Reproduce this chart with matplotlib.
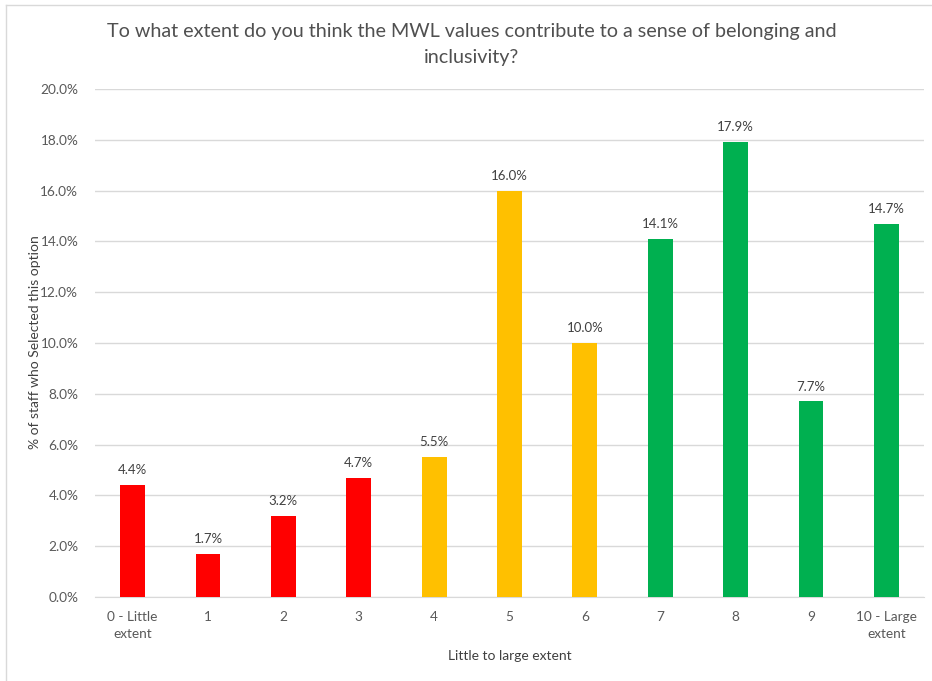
import matplotlib.pyplot as plt
import numpy as np
from matplotlib.lines import Line2D
from matplotlib.ticker import FuncFormatter

plt.rcParams['font.family'] = ['Lato', 'DejaVu Sans']

categories = ['0 - Little\nextent', '1', '2', '3', '4', '5', '6', '7', '8', '9', '10 - Large\nextent']
percent = [4.4, 1.7, 3.2, 4.7, 5.5, 16.0, 10.0, 14.1, 17.9, 7.7, 14.7]
bar_colors = ['#FF0000'] * 4 + ['#FFC000'] * 3 + ['#00B050'] * 4

W, H = 932, 681
fig = plt.figure(figsize=(W / 100, H / 100), dpi=100)
ax = fig.add_axes([95 / W, 1 - 597 / H, (924 - 95) / W, (597 - 89) / H])

x = np.arange(len(categories))
bars = ax.bar(x, percent, width=0.33, color=bar_colors, zorder=3)

for b, v in zip(bars, percent):
    ax.text(b.get_x() + b.get_width() / 2, v + 0.35, f'{v:.1f}%',
            ha='center', va='bottom', fontsize=9.5, color='#404040')

ax.set_xlim(-0.5, len(categories) - 0.5)
ax.set_ylim(0, 20)
ax.set_yticks(np.arange(0, 20.1, 2))
ax.yaxis.set_major_formatter(FuncFormatter(lambda v, _: f'{v:.1f}%'))
ax.set_xticks(x)
ax.set_xticklabels(categories, linespacing=1.5)
ax.tick_params(axis='both', length=0, labelsize=9.8, labelcolor='#595959')
ax.tick_params(axis='y', pad=12)
ax.tick_params(axis='x', pad=10)
ax.grid(axis='y', color='#D9D9D9', linewidth=1, zorder=0)
for s in ['top', 'right', 'left']:
    ax.spines[s].set_visible(False)
ax.spines['bottom'].set_color('#D9D9D9')

fig.text(472 / W, 1 - 32 / H, 'To what extent do you think the MWL values contribute to a sense of belonging and',
         ha='center', va='center', fontsize=14.2, color='#505050')
fig.text(472 / W, 1 - 58 / H, 'inclusivity?', ha='center', va='center', fontsize=14.2, color='#505050')

fig.text(35 / W, 1 - 342 / H, '% of staff who Selected this option', rotation=90,
         ha='center', va='center', fontsize=10, color='#404040')
fig.text(510 / W, 1 - 656 / H, 'Little to large extent', ha='center', va='center',
         fontsize=10, color='#404040')

# chart frame edges
fig.add_artist(Line2D([6 / W, 6 / W], [0, 1 - 5 / H], transform=fig.transFigure, color='#D9D9D9', lw=1))
fig.add_artist(Line2D([6 / W, 1], [1 - 5 / H, 1 - 5 / H], transform=fig.transFigure, color='#D9D9D9', lw=1))

fig.savefig('out.png', dpi=100)
